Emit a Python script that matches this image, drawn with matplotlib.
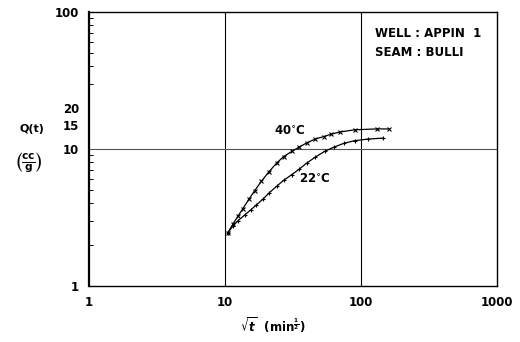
import matplotlib
matplotlib.use('Agg')
import matplotlib.pyplot as plt
import matplotlib.ticker as mtick

# sqrt(t) values and Q(t)
x_40 = [10.5, 11.5, 12.5, 13.5, 15, 16.5, 18.5, 21, 24, 27, 31, 35, 40, 46, 53, 60, 70, 90, 130, 160]
q_40 = [2.45, 2.85, 3.25, 3.65, 4.3, 4.95, 5.8, 6.8, 7.9, 8.8, 9.6, 10.3, 11.1, 11.8, 12.3, 12.8, 13.3, 13.8, 14.0, 14.0]
x_22 = [10.5, 11.5, 12.5, 14, 15.5, 17, 19, 21, 24, 27, 31, 35, 40, 46, 54, 63, 75, 90, 112, 145]
q_22 = [2.45, 2.75, 3.0, 3.3, 3.6, 3.9, 4.3, 4.75, 5.35, 5.9, 6.5, 7.1, 7.9, 8.7, 9.6, 10.3, 11.0, 11.5, 11.8, 12.0]

y_ticks = [1, 10, 15, 20, 100]
x_ticks = [1, 10, 100, 1000]

plt.rcParams['font.family'] = ['DejaVu Sans']
plt.rcParams['font.weight'] = 'bold'

fig = plt.figure(figsize=(5.2, 3.42), dpi=100)
ax = fig.add_axes([0.171, 0.164, 0.785, 0.801])
ax.set_xscale('log')
ax.set_yscale('log')
ax.set_xlim(1, 1000)
ax.set_ylim(1, 100)

for s in ax.spines.values():
    s.set_linewidth(1.0)
ax.spines['left'].set_linewidth(1.6)

ax.axvline(10, color='black', lw=0.8)
ax.axvline(100, color='black', lw=0.8)
ax.axhline(10, color='#555555', lw=0.8)

ax.plot(x_40, q_40, color='black', lw=0.9, marker='x', ms=3, mew=0.8)
ax.plot(x_22, q_22, color='black', lw=0.9, marker='+', ms=3, mew=0.8)

ax.text(30, 13.5, '40$^{\\circ}$C', fontsize=8.5, fontweight='bold', ha='center', va='center')
ax.text(46, 6.0, '22$^{\\circ}$C', fontsize=8.5, fontweight='bold', ha='center', va='center')
ax.text(127, 70, 'WELL : APPIN  1', fontsize=8.5, fontweight='bold', ha='left', va='center')
ax.text(127, 51, 'SEAM : BULLI', fontsize=8.5, fontweight='bold', ha='left', va='center')

ax.set_xticks(x_ticks)
ax.set_xticklabels([str(v) for v in x_ticks], fontsize=8.5, fontweight='bold')
ax.set_yticks(y_ticks)
ax.set_yticklabels([str(v) for v in y_ticks], fontsize=8.5, fontweight='bold')
ax.tick_params(axis='both', which='major', length=0, pad=7)
ax.xaxis.set_minor_locator(mtick.NullLocator())
ax.yaxis.set_minor_locator(mtick.LogLocator(base=10, subs=[2, 3, 4, 5, 6, 7, 8, 9]))
ax.yaxis.set_minor_formatter(mtick.NullFormatter())
ax.tick_params(axis='y', which='minor', direction='in', length=3, width=0.7)

fig.text(32 / 520, 1 - 129 / 342, 'Q(t)', fontsize=8, fontweight='bold', ha='center', va='center')
fig.text(28 / 520, 1 - 163 / 342, r'$\left(\frac{\mathbf{cc}}{\mathbf{g}}\right)$', fontsize=11,
         ha='center', va='center')
fig.text(273 / 520, 1 - 325 / 342, r'$\sqrt{t}$  (min$^{\frac{1}{2}}$)', fontsize=8.5,
         fontweight='bold', ha='center', va='center')

fig.savefig('out.png', dpi=100)
